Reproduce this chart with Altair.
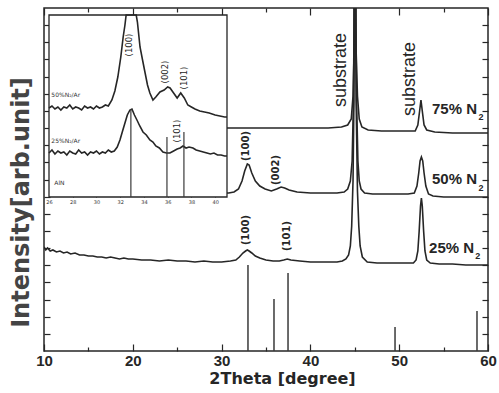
import altair as alt
import pandas as pd

# ---------------- main XRD patterns (2theta [deg], intensity [arb. unit]) ----------------
s25 = [(10.0,104),(10.2,101),(10.4,103),(10.7,100),(11.0,101),(11.4,99),(11.8,100),(12.2,98),
       (12.6,99),(13.0,97),(13.5,98),(14.0,96),(14.5,96),(15.0,95),(15.5,95),(16.0,94),(16.5,94),
       (17.0,93),(17.5,94),(18.0,93),(18.5,92),(19.0,93),(19.5,92),(20.0,92),(21.0,91),(22.0,91),
       (23.0,90),(24.0,91),(25.0,90),(26.0,90),(27.0,89),(28.0,90),(29.0,89),(30.0,89),(31.0,90),
       (31.6,91),(32.0,94),(32.4,98),(32.7,100),(32.9,101),(33.1,100),(33.4,98),(33.8,95),(34.3,93),
       (35.0,91),(35.8,90),(36.5,90),(37.0,91),(37.4,92),(37.8,91),(38.8,90),(40.0,89),(41.0,89),
       (42.0,89),(43.0,89),(43.6,90),(44.0,92),(44.3,96),(44.5,105),(44.65,125),(44.8,170),(44.9,250),
       (44.97,400),(45.05,400),(45.15,250),(45.3,160),(45.45,125),(45.6,105),(45.85,94),(46.4,89),
       (47.5,88),(49.0,88),(50.5,88),(51.6,88),(51.9,91),(52.1,100),(52.25,120),(52.4,145),(52.5,153),
       (52.6,145),(52.75,120),(52.9,100),(53.1,91),(53.5,88),(54.5,87),(56.0,87),(57.5,86),(59.0,86),
       (60.0,86)]
s50 = [(30.0,158),(30.8,158),(31.4,159),(31.9,162),(32.3,170),(32.6,180),(32.9,187),(33.1,186),
       (33.4,178),(33.8,170),(34.3,165),(34.9,162),(35.6,160),(36.2,162),(36.7,164),(37.1,163),
       (37.6,161),(38.5,159),(40.0,158),(41.5,158),(43.0,158),(43.8,159),(44.2,162),(44.5,170),
       (44.7,190),(44.85,250),(44.97,400),(45.05,400),(45.2,250),(45.35,190),(45.5,170),(45.7,162),
       (46.1,158),(47.0,157),(49.0,157),(51.0,157),(51.7,158),(52.0,165),(52.2,178),(52.35,190),
       (52.5,194),(52.65,190),(52.8,178),(53.0,165),(53.3,157),(53.8,155),(55.0,154),(57.0,154),
       (60.0,154)]
s75 = [(30.0,223),(32.0,223),(34.0,223),(36.0,223),(38.0,223),(40.0,223),(42.0,223),(43.5,224),
       (44.2,226),(44.6,232),(44.8,255),(44.92,300),(44.98,400),(45.06,400),(45.15,300),(45.3,255),
       (45.5,232),(45.8,224),(46.5,221),(48.0,220),(50.0,220),(51.8,220),(52.1,226),(52.3,240),
       (52.45,251),(52.6,240),(52.8,226),(53.1,221),(54.0,219),(56.0,218),(58.0,218),(60.0,218)]

# AlN reference lines
ref_t = [32.97, 35.9, 37.48, 49.53, 58.76]
ref_i = [86, 52, 78, 24, 40]

# ---------------- inset (zoom 26-41 deg) ----------------
in25 = [(26.0,44),(26.25,47),(26.5,43),(26.75,46),(27.0,44),(27.25,45),(27.5,42),(27.75,46),
        (28.0,44),(28.25,43),(28.5,47),(28.75,44),(29.0,45),(29.25,42),(29.5,45),(29.75,44),
        (30.0,46),(30.25,43),(30.5,45),(30.75,44),(31.0,47),(31.25,45),(31.5,46),(31.75,50),
        (31.98,57),(32.2,66),(32.4,74),(32.6,82),(32.82,87),(32.99,88),(33.2,82),(33.41,77),
        (33.65,71),(33.92,65),(34.2,62),(34.5,57),(34.76,55),(35.0,51),(35.3,49),(35.6,45),
        (35.9,44),(36.19,44),(36.5,46),(36.8,48),(37.05,49),(37.29,51),(37.55,49),(37.8,50),
        (38.13,49),(38.4,47),(38.7,46),(39.0,45),(39.31,44),(39.6,43),(39.9,44),(40.2,42),
        (40.5,42),(40.8,41),(41.0,41)]
in50 = [(26.0,89),(26.25,91),(26.5,88),(26.75,90),(27.0,87),(27.25,90),(27.5,89),(27.75,92),
        (28.0,88),(28.25,90),(28.5,89),(28.75,87),(29.0,91),(29.25,89),(29.5,90),(29.75,88),
        (30.0,91),(30.25,89),(30.5,90),(30.75,92),(31.0,91),(31.3,97),(31.55,106),(31.8,120),
        (32.05,140),(32.25,160),(32.4,172),(32.5,182),(33.35,182),(33.45,175),(33.67,150),
        (33.9,136),(34.1,124),(34.3,112),(34.5,104),(34.76,97),(35.0,100),(35.35,105),(35.7,107),
        (36.0,110),(36.2,109),(36.5,104),(36.8,99),(37.1,104),(37.4,99),(37.7,92),(38.0,90),
        (38.3,88),(38.7,86),(39.1,85),(39.5,84),(40.0,82),(40.4,81),(40.8,80),(41.0,80)]
inset_ref_t = [32.9, 35.94, 37.37]
inset_ref_i = [88, 60, 65]

x_ticks = [10, 20, 30, 40, 50, 60]
x_minor = [15, 25, 35, 45, 55]
y_ticks = [round(17.15 * k, 2) for k in range(1, 20)]
inset_ticks = [26, 28, 30, 32, 34, 36, 38, 40]

# ---------------- tables ----------------
rows = []
for name, s in (("25% N2", s25), ("50% N2", s50), ("75% N2", s75)):
    rows += [{"t": t, "i": v, "s": name} for t, v in s]
main_df = pd.DataFrame(rows)
ref_df = pd.DataFrame({"t": ref_t, "i": ref_i})

irows = []
for name, s in (("25%", in25), ("50%", in50)):
    irows += [{"t": t, "i": v, "s": name} for t, v in s]
inset_df = pd.DataFrame(irows)
inset_ref_df = pd.DataFrame({"t": inset_ref_t, "i": inset_ref_i})

hkl_df = pd.DataFrame({"label": ["(100)", "(002)", "(100)", "(101)"],
                       "t": [32.8, 36.13, 32.8, 37.31], "i": [205, 181, 121, 115]})
sub_df = pd.DataFrame({"label": ["substrate", "substrate"], "t": [43.5, 51.2], "i": [281, 272]})
leg_df = pd.DataFrame({"label": ["75% N", "50% N", "25% N"],
                       "t": [53.69, 53.69, 53.36], "i": [242, 172, 103]})
leg2_df = pd.DataFrame({"label": ["2", "2", "2"], "t": [59.2, 59.2, 58.85], "i": [234, 163.5, 95.5]})
ihkl_df = pd.DataFrame({"label": ["(100)", "(002)", "(101)", "(101)"],
                        "t": [32.74, 35.77, 37.37, 36.78], "i": [152, 125, 119, 66]})
ilab_df = pd.DataFrame({"label": ["50%N\u2082/Ar", "25%N\u2082/Ar", "AlN"],
                        "t": [26.2, 26.2, 26.45], "i": [102, 56, 14]})
frame_df = pd.DataFrame({"a": [26], "b": [41], "c": [0], "d": [182]})

INK = "#262626"

# ---------------- scales & axes ----------------
xs = alt.Scale(domain=[10, 60], nice=False, zero=False)
ys = alt.Scale(domain=[0, 343], nice=False, zero=False)

ax_bottom = alt.Axis(orient="bottom", values=x_ticks, offset=-7, tickSize=7, tickWidth=1.2,
                     tickColor=INK, domain=False, grid=False, labelFlush=False,
                     labelFont="Liberation Sans", labelFontSize=15, labelFontWeight="bold",
                     labelColor=INK, labelPadding=2, title="2Theta [degree]",
                     titleFont="DejaVu Sans", titleFontSize=16, titleFontWeight="bold",
                     titleColor=INK, titlePadding=2, titleX=238)
ax_bottom_minor = alt.Axis(orient="bottom", values=x_minor, offset=-4, tickSize=4, tickWidth=1.2,
                           tickColor=INK, domain=False, grid=False, labels=False, title=None)
ax_top = alt.Axis(orient="top", values=x_ticks, offset=-7, tickSize=7, tickWidth=1.2,
                  tickColor=INK, domain=False, grid=False, labels=False, title=None)
ax_top_minor = alt.Axis(orient="top", values=x_minor, offset=-4, tickSize=4, tickWidth=1.2,
                        tickColor=INK, domain=False, grid=False, labels=False, title=None)
ax_left = alt.Axis(orient="left", values=y_ticks, offset=-6, tickSize=6, tickWidth=1.2,
                   tickColor=INK, domain=False, grid=False, labels=False,
                   title="Intensity[arb.unit]", titleFont="DejaVu Sans", titleFontSize=24,
                   titleFontWeight="bold", titleColor="#444444", titlePadding=10, titleY=194)
ax_right = alt.Axis(orient="right", values=y_ticks, offset=-6, tickSize=6, tickWidth=1.2,
                    tickColor=INK, domain=False, grid=False, labels=False, title=None)

lines = alt.Chart(main_df).mark_line(color=INK, strokeWidth=1.6, clip=True).encode(
    x=alt.X("t:Q", scale=xs, axis=ax_bottom),
    y=alt.Y("i:Q", scale=ys, axis=ax_left),
    detail="s:N")
sticks = alt.Chart(ref_df).mark_rule(color="#3a3a3a", strokeWidth=1.5).encode(
    x=alt.X("t:Q", scale=xs, axis=ax_bottom_minor),
    y=alt.Y("i:Q", scale=ys, axis=ax_right),
    y2=alt.datum(0))
hkl = alt.Chart(hkl_df).mark_text(angle=270, font="DejaVu Sans", fontWeight="bold",
                                  fontSize=10, color=INK, align="center", baseline="middle").encode(
    x=alt.X("t:Q", scale=xs, axis=ax_top), y=alt.Y("i:Q", scale=ys, axis=None), text="label:N")
subs = alt.Chart(sub_df).mark_text(angle=270, font="Liberation Sans", fontSize=18, color=INK,
                                   align="center", baseline="middle").encode(
    x=alt.X("t:Q", scale=xs, axis=ax_top_minor), y=alt.Y("i:Q", scale=ys, axis=None),
    text="label:N")
leg = alt.Chart(leg_df).mark_text(font="Liberation Sans", fontWeight="bold", fontSize=15,
                                  color=INK, align="left", baseline="middle").encode(
    x=alt.X("t:Q", scale=xs, axis=None), y=alt.Y("i:Q", scale=ys, axis=None), text="label:N")
leg2 = alt.Chart(leg2_df).mark_text(font="Liberation Sans", fontWeight="bold", fontSize=9,
                                    color=INK, align="center", baseline="middle").encode(
    x=alt.X("t:Q", scale=xs, axis=None), y=alt.Y("i:Q", scale=ys, axis=None), text="label:N")

main = alt.layer(lines, sticks, hkl, subs, leg, leg2).resolve_axis(x="independent", y="independent")

# ---------------- inset ----------------
ixs = alt.Scale(domain=[26, 41], range=[5, 183], nice=False, zero=False)
iys = alt.Scale(domain=[0, 182], range=[189, 7], nice=False, zero=False)
iax_bottom = alt.Axis(orient="bottom", values=inset_ticks, offset=-157, tickSize=3, tickWidth=1,
                      tickColor=INK, domain=False, grid=False, labelFlush=False,
                      labelFont="DejaVu Sans", labelFontSize=5, labelColor="#333",
                      labelPadding=2, title=None)
iax_top = alt.Axis(orient="top", values=inset_ticks, offset=-10, tickSize=3, tickWidth=1,
                   tickColor=INK, domain=False, grid=False, labels=False, title=None)

iframe = alt.Chart(frame_df).mark_rect(fill="white", stroke=INK, strokeWidth=1.3).encode(
    x=alt.X("a:Q", scale=ixs, axis=iax_bottom), x2="b:Q",
    y=alt.Y("c:Q", scale=iys, axis=None), y2="d:Q")
ilines = alt.Chart(inset_df).mark_line(color=INK, strokeWidth=1.6).encode(
    x=alt.X("t:Q", scale=ixs, axis=iax_top), y=alt.Y("i:Q", scale=iys, axis=None), detail="s:N")
isticks = alt.Chart(inset_ref_df).mark_rule(color="#3a3a3a", strokeWidth=1.2).encode(
    x=alt.X("t:Q", scale=ixs, axis=None), y=alt.Y("i:Q", scale=iys, axis=None), y2=alt.datum(0))
ihkl = alt.Chart(ihkl_df).mark_text(angle=270, font="DejaVu Sans", fontSize=8.5, color=INK,
                                    align="center", baseline="middle").encode(
    x=alt.X("t:Q", scale=ixs, axis=None), y=alt.Y("i:Q", scale=iys, axis=None), text="label:N")
ilab = alt.Chart(ilab_df).mark_text(font="DejaVu Sans", fontSize=6, color="#333",
                                    align="left", baseline="middle").encode(
    x=alt.X("t:Q", scale=ixs, axis=None), y=alt.Y("i:Q", scale=iys, axis=None), text="label:N")

inset = alt.layer(iframe, ilines, isticks, ihkl, ilab).resolve_axis(x="independent", y="independent")

chart = alt.layer(main, inset).resolve_scale(x="independent", y="independent").properties(
    width=444, height=343,
    padding={"left": 44, "top": 8, "right": 11, "bottom": 42},
    autosize=alt.AutoSizeParams(type="none"),
    background="white",
).configure_view(stroke=INK, strokeWidth=1.5)

chart.save("out.html", embed_options={"renderer": "svg", "actions": False})
